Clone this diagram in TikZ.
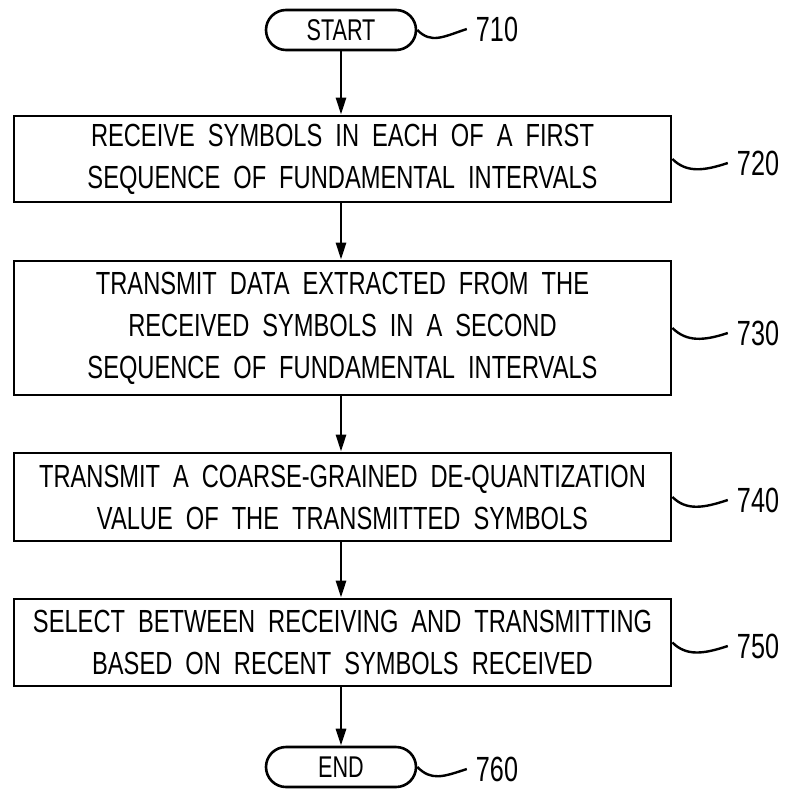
\documentclass[tikz,border=0pt]{standalone}
\usepackage{fontspec}
\usetikzlibrary{arrows.meta}
\newfontfamily\boxfont[FakeStretch=0.74]{Liberation Sans}
\newfontfamily\labfont[FakeStretch=0.72]{Liberation Sans}
\newcommand\boxtextfont{\boxfont\fontsize{32}{42}\selectfont\spaceskip=13pt\relax}
\begin{document}
\begin{tikzpicture}[x=1pt,y=-1pt,
  stepbox/.style={draw,line width=2.8pt,minimum width=657pt,inner sep=0pt,align=center,
    font=\boxtextfont},
  term/.style={draw,line width=2.6pt,rounded corners=20pt,minimum width=150pt,
    minimum height=40pt,inner sep=0pt,font=\labfont\fontsize{30}{32}\selectfont},
  lab/.style={font=\labfont\fontsize{35}{38}\selectfont,inner sep=0pt},
  flow/.style={line width=2.8pt,-{Triangle[length=17pt,width=10pt]}},
  squig/.style={line width=2.4pt}]
\useasboundingbox (0,0) rectangle (785,791);

\node[term] (start) at (341,30) {START};
\node[stepbox,minimum height=86pt] (b720) at (342.5,159)
  {RECEIVE SYMBOLS IN EACH OF A FIRST\\SEQUENCE OF FUNDAMENTAL INTERVALS};
\node[stepbox,minimum height=134pt] (b730) at (342.5,328)
  {TRANSMIT DATA EXTRACTED FROM THE\\RECEIVED SYMBOLS IN A SECOND\\SEQUENCE OF FUNDAMENTAL INTERVALS};
\node[stepbox,minimum height=88pt] (b740) at (342.5,497)
  {TRANSMIT A COARSE-GRAINED DE-QUANTIZATION\\VALUE OF THE TRANSMITTED SYMBOLS};
\node[stepbox,minimum height=87pt] (b750) at (342.5,642.5)
  {SELECT BETWEEN RECEIVING AND TRANSMITTING\\BASED ON RECENT SYMBOLS RECEIVED};
\node[term] (end) at (341,767) {END};

\draw[flow] (start) -- (start |- b720.north);
\draw[flow] (start |- b720.south) -- (start |- b730.north);
\draw[flow] (start |- b730.south) -- (start |- b740.north);
\draw[flow] (start |- b740.south) -- (start |- b750.north);
\draw[flow] (start |- b750.south) -- (end);

\node[lab] (l710) at (497,29) {710};
\node[lab] (l720) at (758,163) {720};
\node[lab] (l730) at (758,333) {730};
\node[lab] (l740) at (758,500) {740};
\node[lab] (l750) at (758,646) {750};
\node[lab] (l760) at (497,769) {760};

\draw[squig] (start.east) .. controls +(14,14) and +(-24,8) .. ([xshift=-9pt]l710.west);
\draw[squig] (b720.east) .. controls +(14,14) and +(-24,8) .. ([xshift=-9pt]l720.west);
\draw[squig] (b730.east) .. controls +(14,14) and +(-24,8) .. ([xshift=-9pt]l730.west);
\draw[squig] (b740.east) .. controls +(14,14) and +(-24,8) .. ([xshift=-9pt]l740.west);
\draw[squig] (b750.east) .. controls +(14,14) and +(-24,8) .. ([xshift=-9pt]l750.west);
\draw[squig] (end.east) .. controls +(14,14) and +(-24,8) .. ([xshift=-9pt]l760.west);
\end{tikzpicture}
\end{document}
